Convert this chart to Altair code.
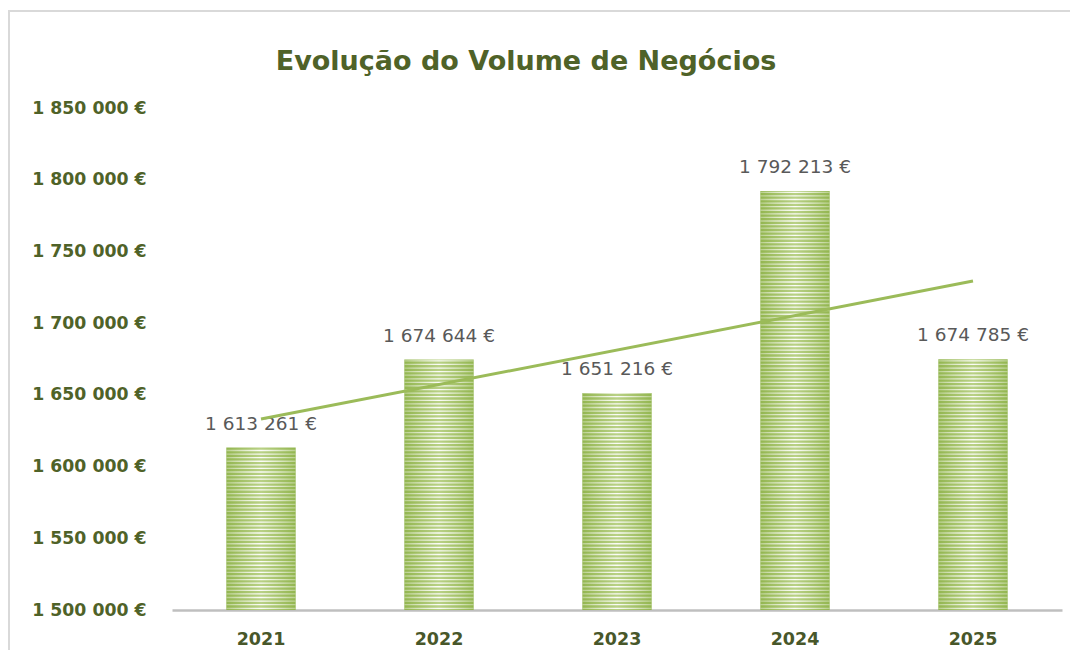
import altair as alt
import pandas as pd

years = ["2021", "2022", "2023", "2024", "2025"]
values = [1613261, 1674644, 1651216, 1792213, 1674785]
y_ticks = [1500000, 1550000, 1600000, 1650000, 1700000, 1750000, 1800000, 1850000]
title_text = ["Evolução do Volume de Negócios"]

df = pd.DataFrame({"year": years, "value": values, "yr": [int(v) for v in years]})

FONT = "DejaVu Sans"
GREEN = "#9BBB59"
OLIVE = "#4F6228"
fmt = "replace(replace(format({v}, ',.0f'), ',', ' '), ',', ' ') + ' €'"

y_scale = alt.Scale(domain=[1500000, 1850000], nice=False, zero=False)
x_scale = alt.Scale(paddingInner=0.61, paddingOuter=0.305)

x_enc = alt.X(
    "year:N", title=None, scale=x_scale,
    axis=alt.Axis(labelAngle=0, labelFont=FONT, labelFontSize=17.5, labelFontWeight="bold",
                  labelColor="#48572A", labelPadding=20, ticks=False,
                  domainColor="#BFBFBF", domainWidth=2.5),
)
y_enc = alt.Y(
    "value:Q", title=None, scale=y_scale,
    axis=alt.Axis(values=y_ticks, labelExpr=fmt.format(v="datum.value"), labelFont=FONT,
                  labelFontSize=17.3, labelFontWeight="bold", labelColor=OLIVE,
                  labelPadding=26, ticks=False, domain=False, grid=False),
)

base = alt.Chart(df)

bar_fill = alt.Gradient(
    gradient="linear", x1=0, x2=1, y1=0, y2=0,
    stops=[alt.GradientStop(offset=0, color="#93B650"),
           alt.GradientStop(offset=0.5, color="#B9D186"),
           alt.GradientStop(offset=1, color="#93B650")],
)
stripe_fill = alt.Gradient(
    gradient="linear", x1=0, x2=1, y1=0, y2=0,
    stops=[alt.GradientStop(offset=0, color="rgba(255,255,255,0.35)"),
           alt.GradientStop(offset=0.5, color="rgba(255,255,255,0.95)"),
           alt.GradientStop(offset=1, color="rgba(255,255,255,0.35)")],
)

bars = base.mark_bar(color=bar_fill).encode(x=x_enc, y=y_enc, y2=alt.datum(1500000))

stripes = (
    base.transform_calculate(s="sequence(1501200, datum.value, 2500)")
    .transform_flatten(["s"])
    .mark_tick(color=stripe_fill, thickness=1.3, size=69, opacity=1)
    .encode(x=alt.X("year:N", title=None, scale=x_scale),
            y=alt.Y("s:Q", title=None, scale=y_scale))
)

labels = (
    base.transform_calculate(lbl=fmt.format(v="datum.value"))
    .mark_text(font=FONT, fontSize=18.5, color="#595959", dy=-24, baseline="middle")
    .encode(x=alt.X("year:N", title=None, scale=x_scale),
            y=alt.Y("value:Q", title=None, scale=y_scale), text="lbl:N")
)

one = pd.DataFrame({"t": title_text})
border_left = alt.Chart(one).mark_rule(color="#D9D9D9", strokeWidth=2).encode(
    x=alt.value(-163), y=alt.value(-97), y2=alt.value(560))
border_top = alt.Chart(one).mark_rule(color="#D9D9D9", strokeWidth=2).encode(
    x=alt.value(-164), x2=alt.value(900), y=alt.value(-97))
title = alt.Chart(one).mark_text(
    font=FONT, fontSize=27, fontWeight="bold", color=OLIVE, baseline="middle", align="center"
).encode(x=alt.value(354), y=alt.value(-46), text="t:N")

main = alt.layer(bars, stripes, labels, border_left, border_top, title)

trend = (
    base.transform_regression("yr", "value", method="linear")
    .mark_line(color=GREEN, strokeWidth=3)
    .encode(
        x=alt.X("yr:Q", scale=alt.Scale(domain=[2020.5, 2025.5], nice=False, zero=False), axis=None),
        y=alt.Y("value:Q", title=None, scale=y_scale),
    )
)

chart = (
    alt.layer(main, trend)
    .resolve_scale(x="independent")
    .properties(
        width=890, height=502,
        autosize=alt.AutoSizeParams(type="none"),
        padding={"left": 164, "top": 100, "right": 8, "bottom": 40},
    )
    .configure_view(stroke=None)
)

chart.save("out.html", embed_options={"renderer": "svg", "actions": False})
